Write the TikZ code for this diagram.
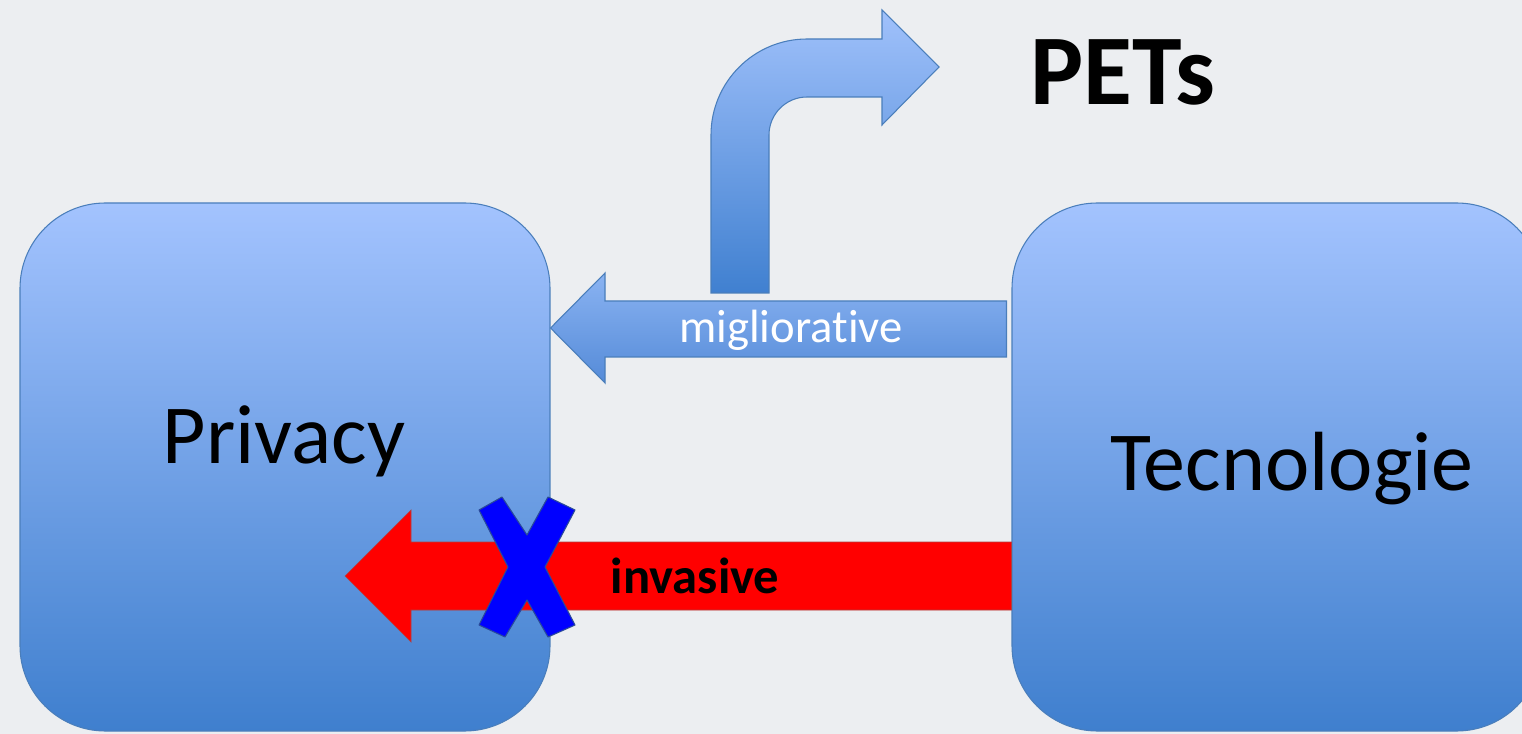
\documentclass[tikz,border=0pt]{standalone}
\usepackage{fontspec}
\setmainfont[Ligatures=NoCommon]{Carlito}
\usetikzlibrary{calc}
\definecolor{bg}{HTML}{ECEEF1}
\definecolor{boxtop}{HTML}{A3C3FE}
\definecolor{boxbot}{HTML}{3F7FCE}
\definecolor{boxedge}{HTML}{4A7EBB}
\definecolor{arrtop}{HTML}{8AB3F2}
\definecolor{arrbot}{HTML}{558BD8}
\definecolor{bendtop}{HTML}{A0C1FB}
\definecolor{bendbot}{HTML}{4080D0}
\definecolor{redge}{HTML}{B04040}
\definecolor{xfill}{HTML}{0000FF}
\definecolor{xedge}{HTML}{2A4A9A}
\tikzset{
  bigbox/.style={draw=boxedge, line width=0.8pt, rounded corners=64pt,
    top color=boxtop, bottom color=boxbot, inner sep=0pt},
  boxtext/.style={font=\fontsize{63}{63}\selectfont, anchor=base, inner sep=0pt, text=black},
  bluearrow/.style={draw=boxedge, line width=0.8pt, top color=arrtop, bottom color=arrbot},
  bentarrow/.style={draw=boxedge, line width=0.8pt, top color=bendtop, bottom color=bendbot},
  redarrow/.style={draw=redge, line width=0.5pt, fill=red},
  xmark/.style={draw=xedge, line width=0.8pt, fill=xfill, line join=round},
  lbl/.style={anchor=base, inner sep=0pt}
}
\begin{document}
\begin{tikzpicture}[x=0.75pt, y=-0.75pt]
\useasboundingbox (0,0) rectangle (1522,734);
\clip (0,0) rectangle (1522,734);
\fill[bg] (0,0) rectangle (1522,734);

% boxes
\node[bigbox, minimum width=397.5pt, minimum height=396pt] (privacy) at (285,467) {};
\node[bigbox, minimum width=397.5pt, minimum height=396pt] (tech) at (1277,467) {};

% migliorative arrow (from Tecnologie to Privacy)
\coordinate (mend) at ($(tech.west)+(-5,0)$);
\shade[bluearrow] (mend |- 0,301) -- (605,301) -- (605,273) -- (privacy.east |- 0,328)
  -- (605,383) -- (605,357) -- (mend |- 0,357) -- cycle;

% bent arrow up to PETs
\shade[bentarrow] (711,293) -- (711,135) .. controls (711,82) and (754,39) .. (807,39)
  -- (882,39) -- (882,10) -- (939,67) -- (882,125) -- (882,97) -- (807,97)
  .. controls (786,97) and (769,114) .. (769,135) -- (769,293) -- cycle;

% invasive arrow
\filldraw[redarrow] (tech.west |- 0,542) -- (411,542) -- (411,510) -- (345,576)
  -- (411,642) -- (411,610) -- (tech.west |- 0,610) -- cycle;

% blue X
\filldraw[xmark] (479,510) -- (502,497) -- (527,535) -- (548,497) -- (575,510)
  -- (545,567) -- (575,625) -- (548,637) -- (527,600) -- (505,637) -- (479,625)
  -- (508,567) -- cycle;

% texts
\node[boxtext] (privacytext) at (284,464) {Privacy};
\node[boxtext] (techtext) at (1292,490) {Tecnologie};
\node[lbl, font=\fontsize{35}{35}\selectfont, text=white] (migl) at (791,343) {migliorative};
\node[lbl, font=\fontsize{38}{38}\selectfont\bfseries, text=black] (inv) at (695,593) {invasive};
\node[lbl, font=\fontsize{75}{75}\selectfont\bfseries, text=black] (pets) at (1123,105) {PETs};
\end{tikzpicture}
\end{document}
